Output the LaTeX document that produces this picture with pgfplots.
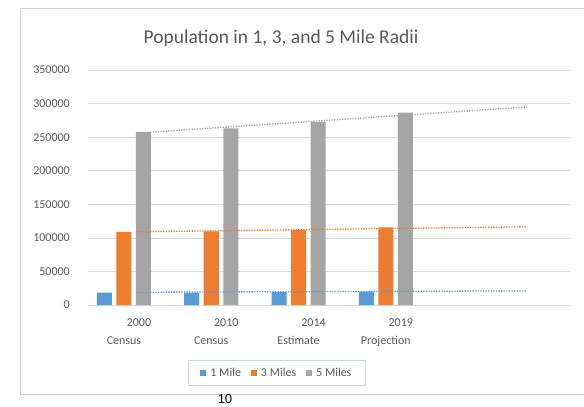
\documentclass[border=0pt]{standalone}
\usepackage{fontspec}
\setmainfont{Carlito}
\newfontfamily\pagefont{Liberation Sans}
\usepackage{pgfplots}
\pgfplotsset{compat=1.18}
\definecolor{xblue}{HTML}{5B9BD5}
\definecolor{xorange}{HTML}{ED7D31}
\definecolor{xgray}{HTML}{A5A5A5}
\definecolor{txt}{HTML}{595959}
\definecolor{gridc}{HTML}{D9D9D9}
\definecolor{frame}{HTML}{D0D0D0}
\definecolor{legb}{HTML}{C9D5E8}
\begin{document}
\begin{tikzpicture}
\useasboundingbox (0pt,0pt) rectangle (584pt,-407pt);
\fill[white] (0pt,0pt) rectangle (584pt,-407pt);
\draw[frame, line width=0.8pt] (600pt,-8pt) -- (20pt,-8pt) -- (20pt,-394pt) -- (600pt,-394pt);
\node[txt, font=\fontsize{19.5}{22}\selectfont] at (281pt,-38pt) {Population in 1, 3, and 5 Mile Radii};
\begin{axis}[
  at={(88pt,-305pt)}, anchor=south west,
  scale only axis, width=482pt, height=235pt,
  ybar=4.5pt, bar width=15pt,
  xmin=-0.412, xmax=5.11,
  ymin=0, ymax=350000,
  ytick={0,50000,100000,150000,200000,250000,300000,350000},
  scaled y ticks=false,
  yticklabel style={/pgf/number format/fixed, /pgf/number format/1000 sep={}},
  xtick={0,1,2,3},
  xticklabels={{\hspace*{30pt}2000\\Census},{\hspace*{30pt}2010\\Census},{\hspace*{30pt}2014\\Estimate},{\hspace*{30pt}2019\\Projection}},
  x tick label style={align=center, inner sep=0pt, yshift=-14pt, font=\fontsize{12}{18}\selectfont, text=txt},
  y tick label style={inner sep=0pt, xshift=-18pt, font=\fontsize{12}{14}\selectfont, text=txt},
  /pgf/number format/assume math mode=true,
  major tick length=0pt,
  axis line style={draw=none},
  ymajorgrids, grid style={gridc, line width=0.7pt},
  legend columns=3,
  legend style={at={(0.392,-0.289)}, anchor=center, draw=legb, line width=0.8pt,
    font=\fontsize{12}{14}\selectfont, text=txt, inner xsep=12pt, inner ysep=6pt,
    /tikz/every even column/.append style={column sep=8pt},
    /tikz/every odd column/.append style={column sep=2pt}},
  legend image code/.code={\fill[#1,draw=none] (0pt,-3pt) rectangle (6pt,3pt);},
]
\addplot[fill=xblue, draw=none] coordinates {(0,18300) (1,18600) (2,19200) (3,19800)};
\addplot[fill=xorange, draw=none] coordinates {(0,109000) (1,109500) (2,111600) (3,115600)};
\addplot[fill=xgray, draw=none] coordinates {(0,258000) (1,263000) (2,272800) (3,286700)};
\legend{1 Mile, 3 Miles, 5 Miles}
\addplot[sharp plot, forget plot, xblue, line width=1.3pt, dash pattern=on 1.3pt off 1.3pt] coordinates {(0.15,19000) (4.62,21000)};
\addplot[sharp plot, forget plot, xorange, line width=1.3pt, dash pattern=on 1.3pt off 1.3pt] coordinates {(0.15,109000) (4.62,116500)};
\addplot[sharp plot, forget plot, xgray, line width=1.3pt, dash pattern=on 1.3pt off 1.3pt] coordinates {(0.15,256000) (4.62,295000)};
\end{axis}
\node[anchor=south, inner sep=0pt, font=\pagefont\fontsize{13}{15}\selectfont] at (225pt,-404pt) {10};
\end{tikzpicture}
\end{document}
